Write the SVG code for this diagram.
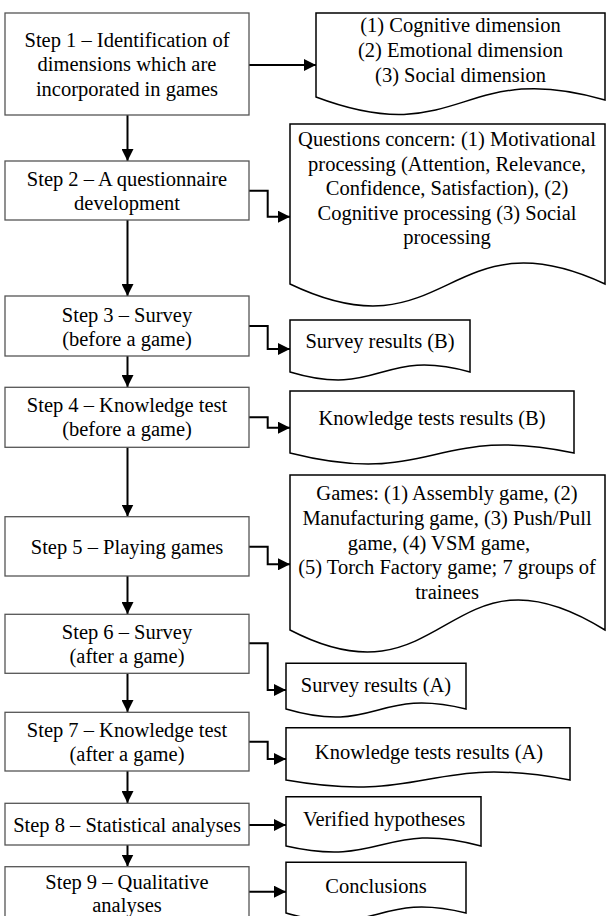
<svg xmlns="http://www.w3.org/2000/svg" width="606" height="916" viewBox="0 0 606 916">
<style>
text{font-family:"Liberation Serif","Times New Roman",serif;font-size:20.5px;fill:#000;text-anchor:middle}
.step{fill:#fff;stroke:#555;stroke-width:1.3}
.doc{fill:#fff;stroke:#000;stroke-width:1.5;stroke-linejoin:miter}
.c{fill:none;stroke:#000;stroke-width:2;marker-end:url(#ah)}
</style>
<defs>
<marker id="ah" markerUnits="userSpaceOnUse" markerWidth="13" markerHeight="12" refX="12" refY="6" orient="auto">
<path d="M0,0 L12,6 L0,12 Z" fill="#000"/>
</marker>
</defs>
<rect width="606" height="916" fill="#fff"/>
<g id="connectors">
<line class="c" x1="127.5" y1="115" x2="127.5" y2="161"/>
<line class="c" x1="127.5" y1="220" x2="127.5" y2="296"/>
<line class="c" x1="127.5" y1="356" x2="127.5" y2="387"/>
<line class="c" x1="127.5" y1="447" x2="127.5" y2="516.5"/>
<line class="c" x1="127.5" y1="576" x2="127.5" y2="614"/>
<line class="c" x1="127.5" y1="673" x2="127.5" y2="712"/>
<line class="c" x1="127.5" y1="771" x2="127.5" y2="803"/>
<line class="c" x1="127.5" y1="845" x2="127.5" y2="866.5"/>
<line class="c" x1="249" y1="65" x2="316" y2="65"/>
<polyline class="c" points="249,190.7 267.7,190.7 267.7,216.7 290,216.7"/>
<polyline class="c" points="249,326 267.7,326 267.7,349 290,349"/>
<polyline class="c" points="249,417.3 267.7,417.3 267.7,427.7 290,427.7"/>
<polyline class="c" points="249,546.7 267.7,546.7 267.7,564.3 290,564.3"/>
<polyline class="c" points="249,643.3 267.7,643.3 267.7,690 286,690"/>
<polyline class="c" points="249,741.7 267.7,741.7 267.7,759 286,759"/>
<line class="c" x1="249" y1="825" x2="286" y2="825"/>
<line class="c" x1="249" y1="891.7" x2="286" y2="891.7"/>
</g>
<g id="step1">
<rect class="step" x="5" y="13" width="244" height="102"/>
<text x="127" y="46.5">Step 1 – Identification of</text>
<text x="127" y="71">dimensions which are</text>
<text x="127" y="95.5">incorporated in games</text>
</g>
<g id="step2">
<rect class="step" x="5" y="161" width="244" height="59"/>
<text x="127" y="186">Step 2 – A questionnaire</text>
<text x="127" y="210">development</text>
</g>
<g id="step3">
<rect class="step" x="5" y="296" width="244" height="60"/>
<text x="127" y="321.5">Step 3 – Survey</text>
<text x="127" y="345.5">(before a game)</text>
</g>
<g id="step4">
<rect class="step" x="5" y="387.3" width="244" height="60"/>
<text x="127" y="412">Step 4 – Knowledge test</text>
<text x="127" y="436">(before a game)</text>
</g>
<g id="step5">
<rect class="step" x="5" y="516.7" width="244" height="59.3"/>
<text x="127" y="554">Step 5 – Playing games</text>
</g>
<g id="step6">
<rect class="step" x="5" y="614.3" width="244" height="59"/>
<text x="127" y="639">Step 6 – Survey</text>
<text x="127" y="663">(after a game)</text>
</g>
<g id="step7">
<rect class="step" x="5" y="712.3" width="244" height="58.7"/>
<text x="127" y="737">Step 7 – Knowledge test</text>
<text x="127" y="761">(after a game)</text>
</g>
<g id="step8">
<rect class="step" x="5" y="803.3" width="244" height="41.7"/>
<text x="127" y="832">Step 8 – Statistical analyses</text>
</g>
<g id="step9">
<rect class="step" x="5" y="866.7" width="244" height="54"/>
<text x="127" y="888.5">Step 9 – Qualitative</text>
<text x="127" y="912">analyses</text>
</g>
<g id="doc1">
<path class="doc" d="M316,13 H605 V100 C460.5,57.6 460.5,151.4 316,97 Z"/>
<text x="460.5" y="31.7">(1) Cognitive dimension</text>
<text x="460.5" y="56.7">(2) Emotional dimension</text>
<text x="460.5" y="81.7">(3) Social dimension</text>
</g>
<g id="doc2">
<path class="doc" d="M290,124 H605 V284 C447.5,210.6 447.5,359.4 290,284 Z"/>
<text x="447" y="146">Questions concern: (1) Motivational</text>
<text x="447" y="170.5">processing (Attention, Relevance,</text>
<text x="447" y="195">Confidence, Satisfaction), (2)</text>
<text x="447" y="219.5">Cognitive processing (3) Social</text>
<text x="447" y="244">processing</text>
</g>
<g id="doc3">
<path class="doc" d="M290,320 H470 V372 C380,347.1 380,399 290,372 Z"/>
<text x="380" y="348">Survey results (B)</text>
</g>
<g id="doc4">
<path class="doc" d="M290,391 H574 V453 C432,423.1 432,488.8 290,453 Z"/>
<text x="432" y="425">Knowledge tests results (B)</text>
</g>
<g id="doc5">
<path class="doc" d="M290,475 H605 V630 C447.5,532 447.5,711.9 290,630 Z"/>
<text x="447" y="500">Games: (1) Assembly game, (2)</text>
<text x="447" y="525">Manufacturing game, (3) Push/Pull</text>
<text x="439" y="549.5">game, (4) VSM game,</text>
<text x="447" y="574">(5) Torch Factory game; 7 groups of</text>
<text x="447" y="598.5">trainees</text>
</g>
<g id="doc6">
<path class="doc" d="M286,663.3 H466 V709 C376,686.8 376,735.3 286,709 Z"/>
<text x="376" y="692">Survey results (A)</text>
</g>
<g id="doc7">
<path class="doc" d="M286,727.7 H570 V780 C428,753 428,804.9 286,780 Z"/>
<text x="429" y="758.5">Knowledge tests results (A)</text>
</g>
<g id="doc8">
<path class="doc" d="M286,796.7 H481 V846 C383.5,819.7 383.5,868.2 286,846 Z"/>
<text x="384" y="826">Verified hypotheses</text>
</g>
<g id="doc9">
<path class="doc" d="M286,862.3 H466 V913 C376,890.8 376,939.3 286,913 Z"/>
<text x="376" y="892.5">Conclusions</text>
</g>
</svg>
